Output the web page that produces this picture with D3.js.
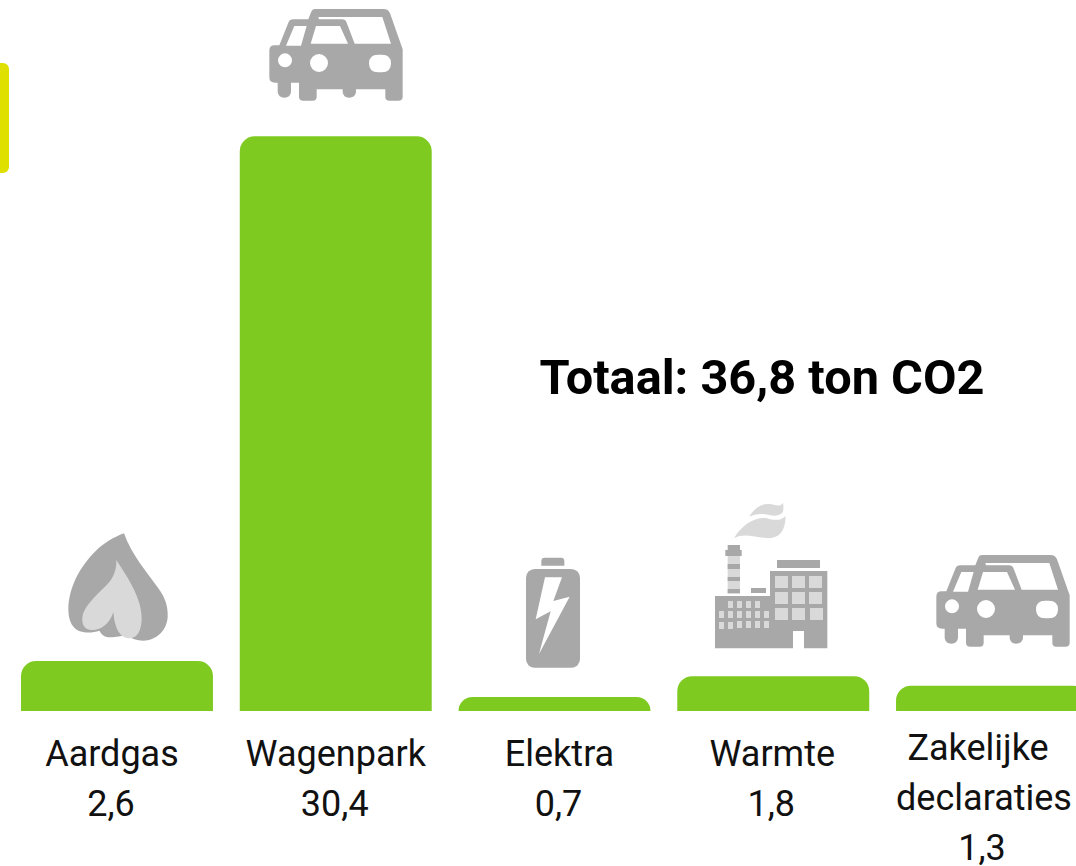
<!DOCTYPE html>
<html>
<head>
<meta charset="utf-8">
<script src="https://cdn.jsdelivr.net/npm/d3@7"></script>
<style>
    html, body { margin: 0; padding: 0; background: #fff; overflow: hidden; }
    text { font-family: Roboto, sans-serif; fill: #111; }
</style>
</head>
<body>
<div id="chart"></div>
<script>
// Chart values
const categories = ["Aardgas", "Wagenpark", "Elektra", "Warmte", "Zakelijke declaraties"];
const co2Values = [2.6, 30.4, 0.7, 1.8, 1.3];
const totalLabel = "Totaal: 36,8 ton CO2";

const width = 1076;
const height = 866;
const baseline = 711;
const barColor = "#7eca21";
const iconDark = "#a8a8a8";
const iconLight = "#d9d9d9";

const svg = d3.select("#chart")
    .append("svg")
    .attr("width", width)
    .attr("height", height);

// Dutch number format, comma as decimal sign
const formatValue = d3.formatLocale({decimal: ",", thousands: ".", grouping: [3], currency: ["€", ""]}).format(".1f");

// Last bar runs off the right edge of the page
const x = d3.scaleBand()
    .domain(categories)
    .range([21, 1088])
    .paddingInner(0.1225)
    .paddingOuter(0);

const y = d3.scaleLinear()
    .domain([0, 30.4])
    .range([710.2, 136.3]);

// Bar with rounded top corners only
function barPath(d, i) {
    const x0 = x(categories[i]);
    const x1 = x0 + x.bandwidth();
    const top = y(d);
    const r = Math.min(15, baseline - top);
    const p = d3.path();
    p.moveTo(x0, baseline);
    p.lineTo(x0, top + r);
    p.arcTo(x0, top, x0 + r, top, r);
    p.lineTo(x1 - r, top);
    p.arcTo(x1, top, x1, top + r, r);
    p.lineTo(x1, baseline);
    p.closePath();
    return p.toString();
}

// Yellow tab on the left edge
svg.append("rect")
    .attr("x", -20)
    .attr("y", 63)
    .attr("width", 29)
    .attr("height", 110)
    .attr("rx", 6)
    .attr("fill", "#dfe000");

svg.append("g")
    .selectAll("path")
    .data(co2Values)
    .join("path")
    .attr("d", barPath)
    .attr("fill", barColor);

// Labels, the offsets follow the slightly uneven placement in the original
const labelShift = [-5, 0, 5, -1, 0];
const lineShift = {"Zakelijke": -6};
const labels = svg.append("g")
    .attr("font-size", 36)
    .attr("text-anchor", "middle");

categories.forEach((c, i) => {
    const cx = x(c) + x.bandwidth() / 2 + labelShift[i];
    const lines = c.split(" ");
    const multi = lines.length > 1;
    const firstY = multi ? 760 : 766;
    const centerX = multi ? 984 : cx;
    lines.forEach((line, j) => {
        labels.append("text")
            .attr("x", centerX + (lineShift[line] || 0))
            .attr("y", firstY + j * 50)
            .text(line);
    });
    labels.append("text")
        .attr("x", multi ? 982 : cx - 1)
        .attr("y", firstY + lines.length * 50)
        .text(formatValue(co2Values[i]));
});

svg.append("text")
    .attr("x", 762)
    .attr("y", 394)
    .attr("text-anchor", "middle")
    .attr("font-size", 48.7)
    .attr("font-weight", 700)
    .style("fill", "#000")
    .text(totalLabel);

// Icons, traced in a 3x grid and scaled back down
const carBody = "M945,27 L1150,27 Q1165,27 1170,40 L1208,148 L1208,290 Q1208,302 1195,302 L1168,302 Q1156,302 1156,290 L1156,268 L1068,268 L1068,276 Q1066,293 1047,293 Q1030,293 1028,276 L1028,268 L950,268 L950,290 Q950,302 938,302 L910,302 Q897,302 897,290 L897,248 L873,248 L873,276 Q871,293 853,293 Q835,293 833,276 L833,248 L825,248 Q808,248 808,232 L808,152 Q808,136 824,136 L838,136 L865,68 Q869,58 880,58 L925,58 L932,40 Q936,27 945,27 Z " +
    "M955,51 L1147,51 L1173,131 L1064,131 L1040,68 Q1036,58 1026,58 L957,58 Z " +
    "M948,78 L1020,78 L1044,131 L932,131 Z " +
    "M883,78 L920,78 L903,137 L858,137 Z " +
    "M834,181 a21,21 0 1,0 42,0 a21,21 0 1,0 -42,0 Z " +
    "M930,189 a27,27 0 1,0 54,0 a27,27 0 1,0 -54,0 Z " +
    "M1107,190 Q1107,164 1134,164 L1146,164 Q1173,164 1173,190 Q1173,217 1146,217 L1134,217 Q1107,217 1107,190 Z";

function drawCar(dx, dy) {
    svg.append("path")
        .attr("transform", `translate(${dx},${dy}) scale(${1 / 3})`)
        .attr("d", carBody)
        .attr("fill-rule", "evenodd")
        .attr("fill", iconDark);
}
drawCar(0, 0);
drawCar(667, 546);

// Flame
const flame = svg.append("g")
    .attr("transform", `translate(0,510) scale(${1 / 3})`);
flame.append("path")
    .attr("d", "M372,70 C395,135 440,185 475,235 C495,262 505,290 503,322 C500,365 465,392 430,392 C410,392 395,385 380,378 C365,375 358,382 330,382 C315,382 305,375 298,362 C280,368 255,370 235,362 C212,350 205,325 205,295 C207,230 240,170 285,125 C310,100 340,82 372,70 Z")
    .attr("fill", iconDark);
flame.append("path")
    .attr("d", "M349,150 C385,205 425,265 425,325 C425,360 412,385 390,385 C365,385 345,365 340,305 C335,325 315,360 275,360 C255,360 245,345 247,322 C250,290 290,255 320,225 C340,205 350,180 349,150 Z")
    .attr("fill", iconLight);

// Battery and factory share the same traced grid
const traced = svg.append("g")
    .attr("transform", `translate(500,490) scale(${1 / 3})`);

traced.append("path")
    .attr("d", "M124,227 L124,213 Q124,203 134,203 L183,203 Q193,203 193,213 L193,227 Z")
    .attr("fill", iconDark);
traced.append("rect")
    .attr("x", 78).attr("y", 237)
    .attr("width", 162).attr("height", 296)
    .attr("rx", 26)
    .attr("fill", iconDark);
traced.append("path")
    .attr("d", "M135,262 L186,262 L160,333 L209,320 L117,492 L152,364 L107,388 Z")
    .attr("fill", "#fff");

function tracedRects(list, fill) {
    traced.append("g")
        .attr("fill", fill)
        .selectAll("rect")
        .data(list)
        .join("rect")
        .attr("x", d => d[0])
        .attr("y", d => d[1])
        .attr("width", d => d[2])
        .attr("height", d => d[3]);
}

// Smoke
traced.append("path")
    .attr("d", "M748,80 C765,50 790,38 815,43 C830,47 843,50 849,38 C851,50 850,58 849,66 C838,78 825,79 808,75 C785,70 765,72 748,80 Z M702,145 C725,105 765,80 800,85 C825,92 845,92 856,78 C858,110 845,140 815,144 C780,148 735,125 702,145 Z")
    .attr("fill", iconLight);

// Chimney
tracedRects([[683, 198, 37, 114]], iconLight);
tracedRects([
    [683, 165, 37, 16], [676, 180, 49, 18],
    [683, 222, 37, 15], [683, 261, 37, 12], [683, 297, 37, 12],
    [753, 294, 45, 15], [831, 210, 129, 24]
], iconDark);

// Buildings with the door cut out
traced.append("path")
    .attr("d", "M645,318 L810,318 L810,243 L982,243 L982,475 L912,475 L912,423 L879,423 L879,475 L645,475 Z")
    .attr("fill", iconDark);

// Windows
const bigWindows = [
    [825, 258], [876, 258], [927, 258],
    [825, 306], [876, 306], [927, 306],
    [825, 354], [876, 354], [930, 354]
].map(d => [d[0], d[1], 39, 36]);
const smallWindows = [
    [684, 333], [711, 333], [738, 333], [765, 333],
    [657, 363], [684, 363], [711, 363], [738, 363], [765, 363], [792, 363],
    [657, 396], [684, 396], [711, 393], [738, 393], [765, 393], [792, 393]
].map(d => [d[0], d[1], 15, 21]);
tracedRects(bigWindows, iconLight);
tracedRects(smallWindows, iconLight);
</script>
</body>
</html>
